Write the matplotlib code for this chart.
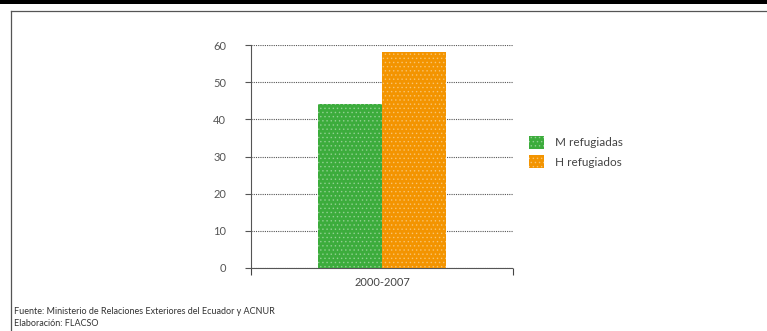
import matplotlib.pyplot as plt
from matplotlib.lines import Line2D
from matplotlib.patches import Rectangle

categories = ['2000-2007']
series_names = ['M refugiadas', 'H refugiados']
series_values = [[44], [58]]
colors = ['#3cac3c', '#f39400']
y_ticks = [0, 10, 20, 30, 40, 50, 60]
source_lines = ['Fuente: Ministerio de Relaciones Exteriores del Ecuador y ACNUR',
                'Elaboración: FLACSO']

plt.rcParams['font.family'] = ['Lato', 'DejaVu Sans']
plt.rcParams['hatch.linewidth'] = 0.6

fig = plt.figure(figsize=(7.67, 3.31), dpi=100)

# top black band and grey frame
fig.add_artist(Rectangle((0, 1 - 3.5 / 331), 1, 3.5 / 331, transform=fig.transFigure,
                         color='black', lw=0))
fig.add_artist(Line2D([11 / 767, 11 / 767], [0, 1 - 11 / 331], transform=fig.transFigure,
                      color='#555555', lw=0.9))
fig.add_artist(Line2D([11 / 767, 1], [1 - 11 / 331, 1 - 11 / 331], transform=fig.transFigure,
                      color='#555555', lw=0.9))

ax = fig.add_axes([251 / 767, 1 - 268 / 331, 262 / 767, 223 / 331])
width = 64 / 262
for i, (name, vals) in enumerate(zip(series_names, series_values)):
    offs = (i - 0.5) * width
    ax.bar([k + offs for k in range(len(categories))], vals, width=width,
           color=colors[i], edgecolor='#ffffff55', hatch='....', lw=0, label=name, zorder=3)

ax.set_xlim(-0.5, len(categories) - 0.5)
ax.set_ylim(0, 60)
ax.set_yticks(y_ticks)
ax.set_yticklabels([str(t) for t in y_ticks], color='#555555', fontsize=8)
ax.yaxis.grid(True, color='#555555', ls=(0, (1, 1)), lw=0.8)
ax.tick_params(axis='y', length=4, color='#555555', pad=14)
for s in ['top', 'right']:
    ax.spines[s].set_visible(False)
ax.spines['left'].set_linestyle((0, (1, 1)))
ax.spines['left'].set_color('#555555')
ax.spines['bottom'].set_linestyle((0, (1, 1)))
ax.spines['bottom'].set_color('#555555')

ax.set_xticks([-0.5, len(categories) - 0.5])
ax.set_xticklabels([])
ax.tick_params(axis='x', length=5, color='#444444', direction='out')
for k, c in enumerate(categories):
    ax.text(k, -2.3, c, ha='center', va='top', fontsize=8, color='#444444')

ax.legend(loc='center left', bbox_to_anchor=(1.02, 0.52), frameon=False, fontsize=8.5,
          handlelength=1.3, handleheight=1.3, handletextpad=0.9, labelspacing=0.55,
          labelcolor='#444444')

fig.text(14 / 767, 1 - 312 / 331, source_lines[0], fontsize=6.5, color='#333333', va='center')
fig.text(14 / 767, 1 - 324 / 331, source_lines[1], fontsize=6.5, color='#333333', va='center')

fig.savefig('out.png', dpi=100)
